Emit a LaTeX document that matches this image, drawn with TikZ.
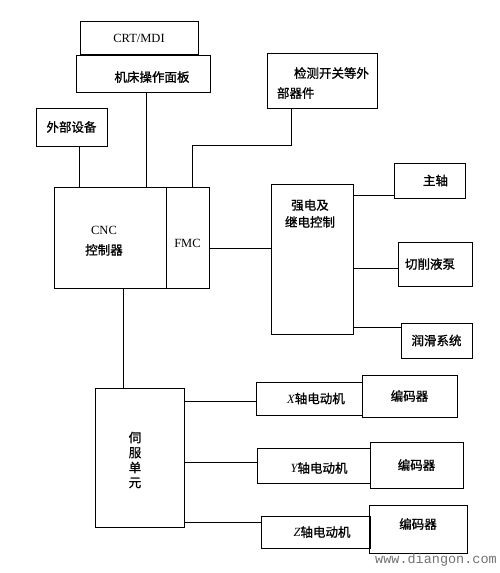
\documentclass[tikz,border=0pt]{standalone}
\usepackage{fontspec}
\setmainfont{Liberation Serif}
\setmonofont{Liberation Mono}
\newfontfamily\zh{Noto Sans CJK SC}[UprightFeatures={FakeBold=1.2}]
\usetikzlibrary{calc,positioning}

\begin{document}
\begin{tikzpicture}[x=1pt,y=-1pt,line cap=round,
    caja/.style={draw,line width=0.9pt,inner sep=0pt},
    linea/.style={line width=0.9pt},
    every node/.style={font=\zh\fontsize{12.5}{15}\selectfont},
    lat/.style={font=\rmfamily\fontsize{12.5}{15}\selectfont}]
  \useasboundingbox (0,0) rectangle (500,573);
  % panel y periferia
  \node[caja,lat,minimum width=118pt,minimum height=33pt] (crt) at (139,38) {CRT/MDI};
  \node[caja,minimum width=134pt,minimum height=37pt,
        label={[xshift=9pt,yshift=-3.5pt]center:机床操作面板}] (panel) at (143,73.5) {};
  \node[caja,minimum width=71pt,minimum height=38pt] (ext) at (71.5,127) {外部设备};
  \node[caja,minimum width=110pt,minimum height=55pt,
        label={[xshift=1pt,yshift=-2.5pt,align=left,font=\zh\fontsize{12.5}{20}\selectfont]center:\hspace*{17pt}检测开关等外\\部器件}]
        (det) at (322,80.5) {};
  % controlador
  \node[caja,minimum width=112pt,minimum height=101pt,
        label={[xshift=-6pt,yshift=-3.5pt,align=center,font=\zh\fontsize{12.5}{20}\selectfont]center:{\rmfamily CNC}\\控制器}]
        (cnc) at (110,237.5) {};
  \node[caja,minimum width=43pt,minimum height=101pt,
        label={[lat,yshift=-5.5pt]center:FMC}] (fmc) at (187.5,237.5) {};
  \node[caja,minimum width=82pt,minimum height=150pt,
        label={[xshift=-2pt,yshift=45.5pt,align=center,font=\zh\fontsize{12.5}{17}\selectfont]center:强电及\\继电控制}]
        (rel) at (312,259) {};
  \node[caja,minimum width=71pt,minimum height=35pt,
        label={[xshift=6pt]center:主轴}] (spin) at (429.5,180.5) {};
  \node[caja,minimum width=74pt,minimum height=44pt,
        label={[xshift=-5pt]center:切削液泵}] (pump) at (435,264) {};
  \node[caja,minimum width=71pt,minimum height=35pt] (lube) at (436.5,340.5) {润滑系统};
  % servo y ejes
  \node[caja,minimum width=89pt,minimum height=139pt,
        label={[xshift=-4.5pt,yshift=-2.5pt,align=center]center:伺\\服\\单\\元}]
        (servo) at (139.5,457.5) {};
  \node[caja,minimum width=106pt,minimum height=33pt,
        label={[xshift=7pt]center:{\rmfamily\itshape X}轴电动机}] (xm) at (309,398.5) {};
  \node[caja,minimum width=95pt,minimum height=42pt] (xe) at (409.5,396) {编码器};
  \node[caja,minimum width=113pt,minimum height=35pt,
        label={[xshift=5.5pt,yshift=-2.5pt]center:{\rmfamily\itshape Y}轴电动机}] (ym) at (313.5,465.5) {};
  \node[caja,minimum width=93pt,minimum height=46pt] (ye) at (416.5,465) {编码器};
  \node[caja,minimum width=109pt,minimum height=32pt,
        label={[xshift=6.5pt]center:{\rmfamily\itshape Z}轴电动机}] (zm) at (315.5,532) {};
  \node[caja,minimum width=98pt,minimum height=48pt,
        label={[yshift=5pt]center:编码器}] (ze) at (418,529) {};
  \node[font=\ttfamily\fontsize{13.5}{15}\selectfont,text=black!55] (marca) at (436,560) {www.diangon.com};
  % enlaces
  \draw[linea] ([xshift=8pt]ext.south) -- ([xshift=8pt]ext.south |- cnc.north);
  \draw[linea] ([xshift=3pt]panel.south) -- ([xshift=3pt]panel.south |- cnc.north);
  \coordinate (codo) at (192,145);
  \draw[linea] ([xshift=-31pt]det.south) |- (codo) -- (codo |- fmc.north);
  \draw[linea] ([yshift=-11pt]fmc.east) -- ([yshift=-11pt]fmc.east -| rel.west);
  \foreach \b/\d in {spin/-14.5,pump/-4,lube/13.5}
    \draw[linea] ([yshift=\d pt]\b.west) -- ([yshift=\d pt]\b.west -| rel.east);
  \draw[linea] ([xshift=13pt]cnc.south) -- ([xshift=13pt]cnc.south |- servo.north);
  \foreach \m/\d in {xm/-2.5,ym/3.5,zm/10}
    \draw[linea] ([yshift=\d pt]\m.west) -- ([yshift=\d pt]\m.west -| servo.east);
\end{tikzpicture}
\end{document}
